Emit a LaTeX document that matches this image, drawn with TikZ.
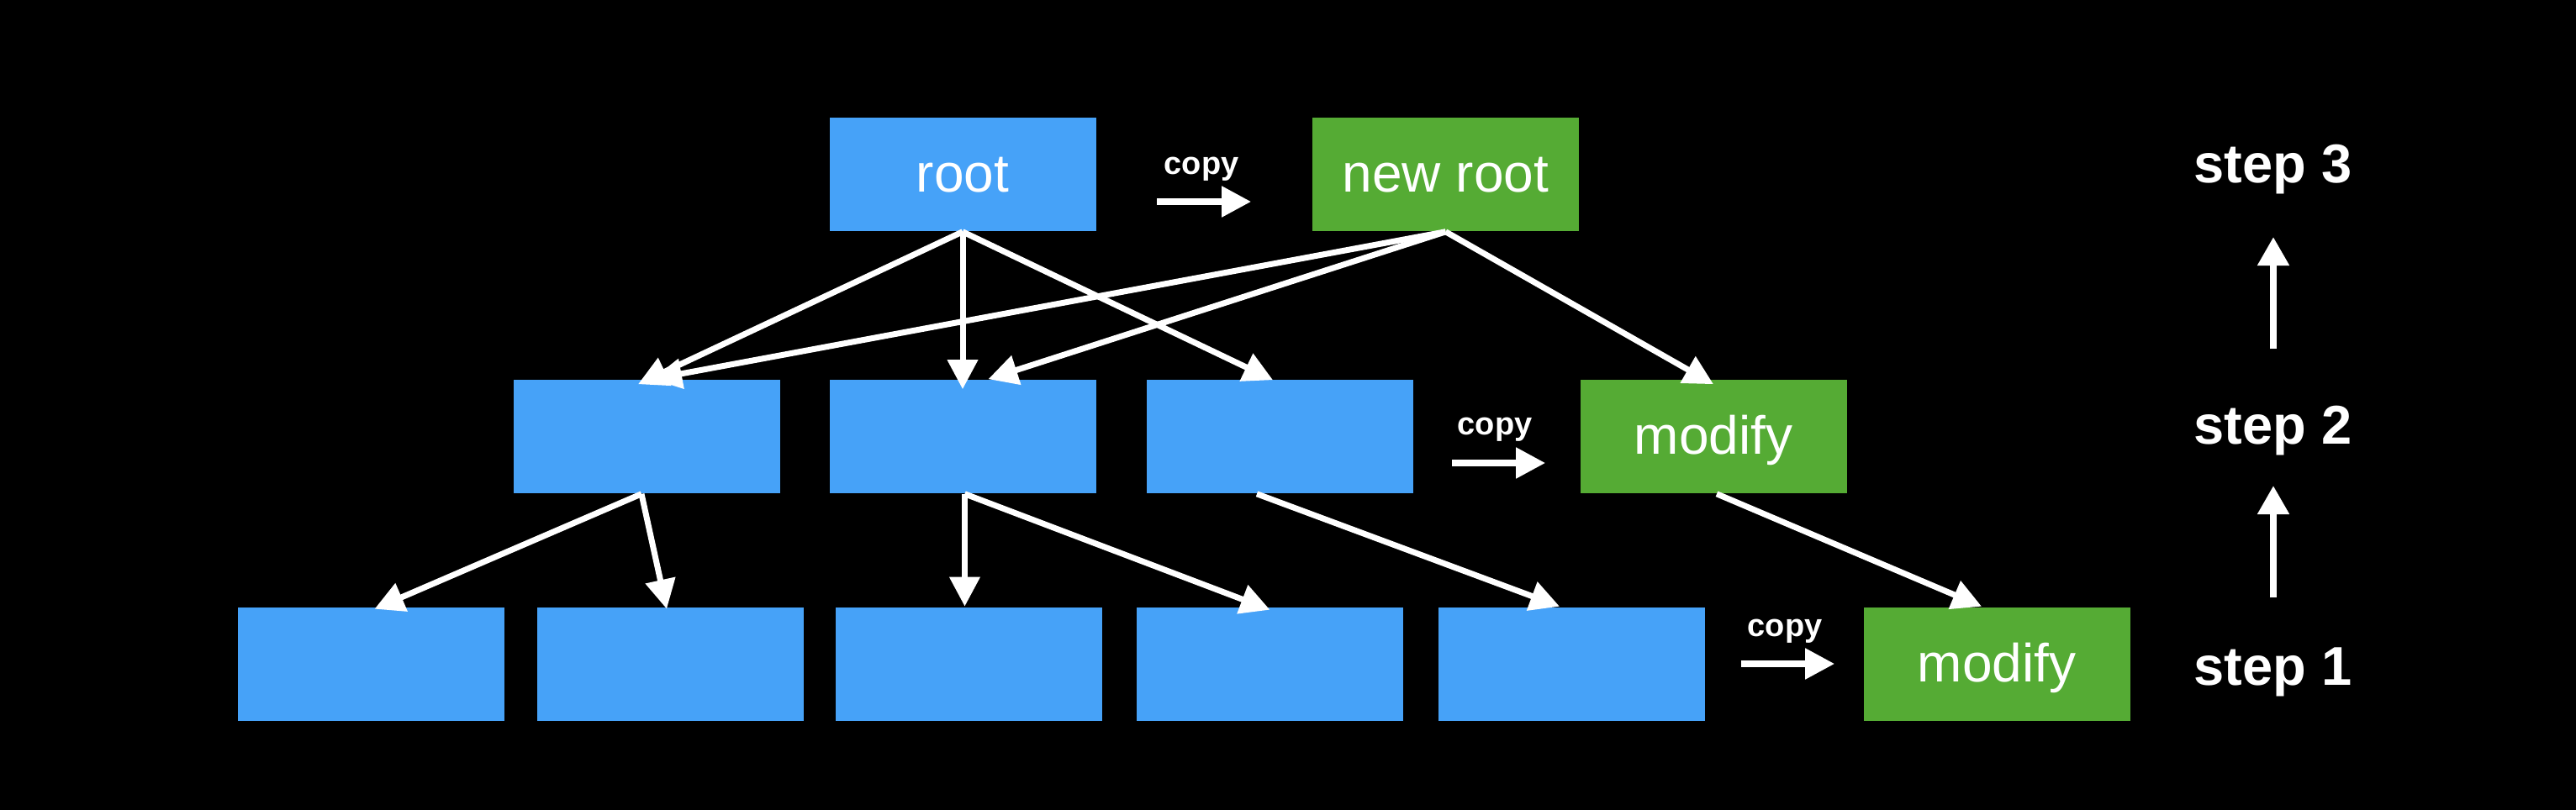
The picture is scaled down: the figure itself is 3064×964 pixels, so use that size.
\documentclass[tikz,border=0pt]{standalone}
\usepackage{fontspec}
\setmainfont{Liberation Sans}
\usetikzlibrary{arrows.meta,calc}
\definecolor{boxblue}{HTML}{46A2F8}
\definecolor{boxgreen}{HTML}{55AB34}
\begin{document}
\begin{tikzpicture}[x=0.25pt,y=-0.25pt,
  bluebox/.style={fill=boxblue,draw=none,inner sep=0pt,minimum width=79.25pt,minimum height=33.75pt,text=white,text height=10.5pt,text depth=0pt,font=\fontsize{16}{19}\selectfont},
  greenbox/.style={bluebox,fill=boxgreen},
  treearrow/.style={draw=white,line width=1.75pt,-{Triangle[length=8.75pt,width=8.75pt]}},
  copyarrow/.style={draw=white,line width=2pt,-{Triangle[length=8.75pt,width=8.75pt]}},
  uparrow/.style={draw=white,line width=2pt,-{Triangle[length=8.5pt,width=9pt]}},
  copylabel/.style={text=white,inner sep=0pt,anchor=base,font=\fontsize{9.5}{11}\selectfont\bfseries},
  steplabel/.style={text=white,inner sep=0pt,anchor=base west,font=\fontsize{16.25}{19}\selectfont\bfseries}]
\fill[black] (0,0) rectangle (3064,964);
\useasboundingbox (0,0) rectangle (3064,964);
% boxes
\node[bluebox] (root) at (1145,207.5) {root};
\node[greenbox] (newroot) at (1719.5,207.5) {new root};
\node[bluebox] (A) at (769,519.5) {};
\node[bluebox] (B) at (1145.5,519.5) {};
\node[bluebox] (C) at (1522,519.5) {};
\node[greenbox] (M2) at (2038,519.5) {modify};
\node[bluebox] (L1) at (441.5,790) {};
\node[bluebox] (L2) at (797,790) {};
\node[bluebox] (L3) at (1152,790) {};
\node[bluebox] (L4) at (1510.5,790) {};
\node[bluebox] (L5) at (1869,790) {};
\node[greenbox] (M1) at (2375,790) {modify};
% tree arrows
\draw[treearrow] (root.south) -- ($(A.north)+(-10,6)$);
\draw[treearrow] (root.south) -- ($(B.north)+(-0.5,12)$);
\draw[treearrow] (root.south) -- ($(C.north)+(-8,1)$);
\draw[treearrow] (newroot.south) -- ($(A.north)+(7,0)$);
\draw[treearrow] (newroot.south) -- ($(B.north)+(30,0)$);
\draw[treearrow] (newroot.south) -- ($(M2.north)+(0,6)$);
\draw[treearrow] ($(A.south)+(-6,0)$) -- ($(L1.north)+(4,3)$);
\draw[treearrow] ($(A.south)+(-6,0)$) -- ($(L2.north)+(-4,3)$);
\draw[treearrow] ($(B.south)+(2,0)$) -- ($(L3.north)+(-4.5,0)$);
\draw[treearrow] ($(B.south)+(2,0)$) -- ($(L4.north)+(0,4)$);
\draw[treearrow] ($(C.south)+(-27,0)$) -- ($(L5.north)+(-14,0)$);
\draw[treearrow] ($(M2.south)+(4,0)$) -- ($(M1.north)+(-18,0)$);
% copy arrows
\draw[copyarrow] ($(root.east)+(72,32.5)$) -- ($(newroot.west)+(-72,32.5)$);
\node[copylabel] (c3) at (1429,207) {copy};
\draw[copyarrow] ($(C.east)+(45.5,31.5)$) -- ($(M2.west)+(-40.5,31.5)$);
\node[copylabel] (c2) at (1778,517) {copy};
\draw[copyarrow] ($(L5.east)+(42.5,0)$) -- ($(M1.west)+(-33.5,0)$);
\node[copylabel] (c1) at (2123,757) {copy};
% steps
\node[steplabel] (s3) at (2609,217) {step 3};
\node[steplabel] (s2) at (2609,528) {step 2};
\node[steplabel] (s1) at (2609,815) {step 1};
\coordinate (u1a) at (2704,711);
\coordinate (u1b) at (2704,578);
\coordinate (u2a) at (2704,415);
\coordinate (u2b) at (2704,282);
\draw[uparrow] (u1a) -- (u1b);
\draw[uparrow] (u2a) -- (u2b);
\end{tikzpicture}
\end{document}
